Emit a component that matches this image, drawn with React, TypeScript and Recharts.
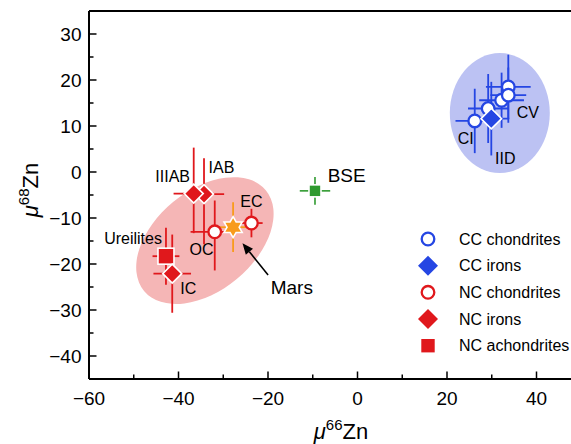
import React from 'react';
import { ScatterChart, Scatter, XAxis, YAxis, ErrorBar, ReferenceLine, Legend } from 'recharts';

// ---------------- data ----------------
const xTicks = [-60, -50, -40, -30, -20, -10, 0, 10, 20, 30, 40, 50];
const yTicks = [-40, -35, -30, -25, -20, -15, -10, -5, 0, 5, 10, 15, 20, 25, 30];

const ccRegion = [{ x: 31.8, y: 12.8 }];
const ncRegion = [{ x: -34.1, y: -14.9 }];

const ccChondrites = [
  { name: '', x: 33.7, y: 18.5, ex: 5, ey: 7 },
  { name: '', x: 32.2, y: 15.6, ex: 5, ey: 6 },
  { name: 'CV', x: 33.7, y: 16.7, ex: 4, ey: 6 },
  { name: '', x: 29.2, y: 13.8, ex: 4.5, ey: 7.5 },
  { name: 'CI', x: 26.2, y: 11.1, ex: 4.3, ey: 7 },
];
const ccIrons = [{ name: 'IID', x: 29.9, y: 11.6, ex: 4, ey: 8 }];
const ncChondrites = [
  { name: 'OC', x: -31.9, y: -13.0, ex: 5.4, ey: [8.4, 6.8] },
  { name: 'EC', x: -23.7, y: -11.1, ex: 2.5, ey: 3.1 },
];
const ncIrons = [
  { name: 'IAB', x: -34.3, y: -4.8, ex: 4.5, ey: [10.9, 7.8] },
  { name: 'IIIAB', x: -36.6, y: -4.7, ex: 4.5, ey: [8.6, 10] },
  { name: 'IC', x: -41.4, y: -22.1, ex: 4.2, ey: 8.5 },
];
const ncAchondrites = [{ name: 'Ureilites', x: -42.8, y: -18.3, ex: 3, ey: 6.2 }];
const bse = [{ name: 'BSE', x: -9.5, y: -4.1, ex: 3.4, ey: 3 }];
const mars = [{ name: 'Mars', x: -27.8, y: -12.0, ex: 3.4, ey: 5.4 }];

const legendLabels = ['CC chondrites', 'CC irons', 'NC chondrites', 'NC irons', 'NC achondrites'];

// ---------------- styles / layout ----------------
const FONT = '"Liberation Sans", Arial, Helvetica, sans-serif';
const BLUE = '#2546e3';
const RED = '#e0181c';
const GREEN = '#2f9a2f';
const ORANGE = '#f89b1c';
const BLUE_FILL = '#bcc2f3';
const RED_FILL = '#f5b6b6';

const CHART_W = 610;
const CHART_H = 444;
const MARGIN = { top: 11, right: 28.75, left: 0, bottom: 0 };
const Y_AXIS_W = 89;
const X_AXIS_H = 65;

const CC_REGION = { rx: 50, ry: 60, angle: 0 };
const NC_REGION = { rx: 79, ry: 50, angle: -39.6 };

const LABEL_POS: Record<string, { dx: number; dy: number; anchor?: string; size?: number }> = {
  CI: { dx: -9, dy: 18 },
  CV: { dx: 19.5, dy: 17.5 },
  IID: { dx: 14, dy: 39.5 },
  IIIAB: { dx: -21, dy: -17 },
  IAB: { dx: 17.5, dy: -26.5 },
  EC: { dx: 0, dy: -22 },
  OC: { dx: -13.3, dy: 17.6 },
  Ureilites: { dx: -4, dy: -17.7, anchor: 'end' },
  IC: { dx: 16, dy: 15 },
  BSE: { dx: 31.7, dy: -15.7, size: 19 },
};

const fmt = (v: number) => (v < 0 ? '\u2212' + Math.abs(v) : String(v));

// ---------------- helpers ----------------
const PointLabel = ({ name, cx, cy }: any) => {
  const p = LABEL_POS[name];
  if (!name || !p) return null;
  return (
    <text
      x={cx + p.dx}
      y={cy + p.dy}
      textAnchor={p.anchor || 'middle'}
      dominantBaseline="central"
      fontSize={p.size || 16}
      fontFamily={FONT}
      fill="#000"
    >
      {name}
    </text>
  );
};

const circlePath = (cx: number, cy: number, color: string) => (
  <circle cx={cx} cy={cy} r={6.3} fill="#fff" stroke={color} strokeWidth={2.3} />
);
const diamondPath = (cx: number, cy: number, color: string, h = 9.5, stroke = '#fff') => (
  <polygon
    points={`${cx},${cy - h} ${cx + h},${cy} ${cx},${cy + h} ${cx - h},${cy}`}
    fill={color}
    stroke={stroke}
    strokeWidth={1.6}
  />
);
const squarePath = (cx: number, cy: number, color: string, h: number, stroke = '#fff') => (
  <rect x={cx - h} y={cy - h} width={2 * h} height={2 * h} fill={color} stroke={stroke} strokeWidth={1.6} />
);
const starPath = (cx: number, cy: number) => {
  const R = 10.5;
  const r = R / Math.sqrt(3);
  const pts: string[] = [];
  for (let k = 0; k < 12; k++) {
    const a = ((-90 + k * 30) * Math.PI) / 180;
    const rad = k % 2 === 0 ? R : r;
    pts.push(`${cx + rad * Math.cos(a)},${cy + rad * Math.sin(a)}`);
  }
  return <polygon points={pts.join(' ')} fill={ORANGE} stroke="#fff" strokeWidth={1.6} />;
};

const CircleShape = (color: string) => (props: any) => (
  <g>
    {circlePath(props.cx, props.cy, color)}
    <PointLabel name={props.payload?.name} cx={props.cx} cy={props.cy} />
  </g>
);
const DiamondShape = (color: string) => (props: any) => (
  <g>
    {diamondPath(props.cx, props.cy, color, props.payload?.name === 'IID' ? 10.3 : 9.5)}
    <PointLabel name={props.payload?.name} cx={props.cx} cy={props.cy} />
  </g>
);
const SquareShape = (color: string, h: number) => (props: any) => (
  <g>
    {squarePath(props.cx, props.cy, color, h)}
    <PointLabel name={props.payload?.name} cx={props.cx} cy={props.cy} />
  </g>
);

const MarsShape = (props: any) => {
  const { cx, cy } = props;
  const tip = { x: cx + 9.4, y: cy + 16 };
  const tail = { x: cx + 35, y: cy + 47.7 };
  const dxv = tip.x - tail.x;
  const dyv = tip.y - tail.y;
  const len = Math.hypot(dxv, dyv);
  const ux = dxv / len;
  const uy = dyv / len;
  const hl = 11;
  const hw = 4.6;
  const bx = tip.x - ux * hl;
  const by = tip.y - uy * hl;
  const nx = -uy;
  const ny = ux;
  return (
    <g>
      {starPath(cx, cy)}
      <line x1={tail.x} y1={tail.y} x2={bx} y2={by} stroke="#000" strokeWidth={1.6} />
      <polygon
        points={`${tip.x},${tip.y} ${bx + nx * hw},${by + ny * hw} ${bx - nx * hw},${by - ny * hw}`}
        fill="#000"
      />
      <text
        x={cx + 58.7}
        y={cy + 60.7}
        textAnchor="middle"
        dominantBaseline="central"
        fontSize={19}
        fontFamily={FONT}
        fill="#000"
      >
        {props.payload?.name}
      </text>
    </g>
  );
};

const EllipseShape = (fill: string, size: { rx: number; ry: number; angle: number }) => (props: any) => (
  <ellipse
    cx={props.cx}
    cy={props.cy}
    rx={size.rx}
    ry={size.ry}
    fill={fill}
    stroke="none"
    transform={`rotate(${size.angle} ${props.cx} ${props.cy})`}
  />
);

const XTick = (props: any) => {
  const { x, y, payload } = props;
  const v = payload.value;
  const major = v % 20 === 0;
  return (
    <g>
      <line x1={x} x2={x} y1={y} y2={y - (major ? 7.5 : 4.5)} stroke="#000" strokeWidth={1.5} />
      {major && (
        <text x={x} y={y + 26} textAnchor="middle" fontSize={19} fontFamily={FONT} fill="#000">
          {fmt(v)}
        </text>
      )}
    </g>
  );
};

const YTick = (props: any) => {
  const { x, y, payload } = props;
  const v = payload.value;
  const major = v % 10 === 0;
  return (
    <g>
      <line x1={x} x2={x + (major ? 7.5 : 4.5)} y1={y} y2={y} stroke="#000" strokeWidth={1.5} />
      {major && (
        <text x={x - 7.5} y={y} dy="0.36em" textAnchor="end" fontSize={19} fontFamily={FONT} fill="#000">
          {fmt(v)}
        </text>
      )}
    </g>
  );
};

const XTitle = () => (
  <text x={341} y={439} textAnchor="middle" fontSize={22} fontFamily={FONT} fill="#000">
    <tspan fontStyle="italic">μ</tspan>
    <tspan fontSize={15} dy={-9}>66</tspan>
    <tspan dy={9}>Zn</tspan>
  </text>
);

const YTitle = () => (
  <text
    x={-190}
    y={38}
    transform="rotate(-90)"
    textAnchor="middle"
    fontSize={22}
    fontFamily={FONT}
    fill="#000"
  >
    <tspan fontStyle="italic">μ</tspan>
    <tspan fontSize={15} dy={-9}>68</tspan>
    <tspan dy={9}>Zn</tspan>
  </text>
);

const LegendBox = () => {
  const rows = [13, 39.7, 66.3, 93, 119.7];
  const mx = 18;
  const markers = [
    circlePath(mx, rows[0], BLUE),
    diamondPath(mx, rows[1], BLUE, 10, 'none'),
    circlePath(mx, rows[2], RED),
    diamondPath(mx, rows[3], RED, 10, 'none'),
    squarePath(mx, rows[4], RED, 6.7, 'none'),
  ];
  return (
    <svg width={200} height={140} style={{ display: 'block', overflow: 'visible' }}>
      {legendLabels.map((t, i) => (
        <g key={t}>
          {markers[i]}
          <text x={49} y={rows[i]} dy="0.36em" fontSize={16} fontFamily={FONT} fill="#000">
            {t}
          </text>
        </g>
      ))}
    </svg>
  );
};

const REGION_Z: any = { zIndex: -20 };

export default function App() {
  return (
    <div
      style={{
        position: 'fixed',
        left: 0,
        top: 0,
        width: 571,
        height: 444,
        overflow: 'hidden',
        background: '#fff',
      }}
    >
      <ScatterChart width={CHART_W} height={CHART_H} margin={MARGIN}>
        <XAxis
          type="number"
          dataKey="x"
          domain={[-60, 50]}
          ticks={xTicks}
          interval={0}
          allowDataOverflow
          tickLine={false}
          tickSize={0}
          tickMargin={0}
          tick={<XTick />}
          axisLine={{ stroke: '#000', strokeWidth: 2 }}
          height={X_AXIS_H}
          label={XTitle}
        />
        <YAxis
          type="number"
          dataKey="y"
          domain={[-45, 35]}
          ticks={yTicks}
          interval={0}
          allowDataOverflow
          tickLine={false}
          tickSize={0}
          tickMargin={0}
          tick={<YTick />}
          axisLine={{ stroke: '#000', strokeWidth: 2 }}
          width={Y_AXIS_W}
          label={YTitle}
        />
        <ReferenceLine y={35} stroke="#000" strokeWidth={2} />
        <ReferenceLine x={50} stroke="#000" strokeWidth={2} />

        <Scatter data={ccRegion} shape={EllipseShape(BLUE_FILL, CC_REGION)} isAnimationActive={false} {...REGION_Z} />
        <Scatter data={ncRegion} shape={EllipseShape(RED_FILL, NC_REGION)} isAnimationActive={false} {...REGION_Z} />

        <Scatter data={bse} shape={SquareShape(GREEN, 6)} isAnimationActive={false}>
          <ErrorBar dataKey="ex" direction="x" width={0} stroke={GREEN} strokeWidth={1.6} />
          <ErrorBar dataKey="ey" direction="y" width={0} stroke={GREEN} strokeWidth={1.6} />
        </Scatter>

        <Scatter data={ncAchondrites} shape={SquareShape(RED, 8)} isAnimationActive={false}>
          <ErrorBar dataKey="ex" direction="x" width={0} stroke={RED} strokeWidth={1.8} />
          <ErrorBar dataKey="ey" direction="y" width={0} stroke={RED} strokeWidth={1.8} />
        </Scatter>
        <Scatter data={ncIrons} shape={DiamondShape(RED)} isAnimationActive={false}>
          <ErrorBar dataKey="ex" direction="x" width={0} stroke={RED} strokeWidth={1.8} />
          <ErrorBar dataKey="ey" direction="y" width={0} stroke={RED} strokeWidth={1.8} />
        </Scatter>
        <Scatter data={ncChondrites} shape={CircleShape(RED)} isAnimationActive={false}>
          <ErrorBar dataKey="ex" direction="x" width={0} stroke={RED} strokeWidth={1.8} />
          <ErrorBar dataKey="ey" direction="y" width={0} stroke={RED} strokeWidth={1.8} />
        </Scatter>
        <Scatter data={mars} shape={MarsShape} isAnimationActive={false}>
          <ErrorBar dataKey="ex" direction="x" width={0} stroke={ORANGE} strokeWidth={1.8} />
          <ErrorBar dataKey="ey" direction="y" width={0} stroke={ORANGE} strokeWidth={1.8} />
        </Scatter>

        <Scatter data={ccChondrites} shape={CircleShape(BLUE)} isAnimationActive={false}>
          <ErrorBar dataKey="ex" direction="x" width={0} stroke={BLUE} strokeWidth={1.8} />
          <ErrorBar dataKey="ey" direction="y" width={0} stroke={BLUE} strokeWidth={1.8} />
        </Scatter>
        <Scatter data={ccIrons} shape={DiamondShape(BLUE)} isAnimationActive={false}>
          <ErrorBar dataKey="ex" direction="x" width={0} stroke={BLUE} strokeWidth={1.8} />
          <ErrorBar dataKey="ey" direction="y" width={0} stroke={BLUE} strokeWidth={1.8} />
        </Scatter>

        <Legend
          layout="vertical"
          align="center"
          verticalAlign="middle"
          content={LegendBox}
          wrapperStyle={{ left: 410, top: 226, width: 200, height: 140 }}
        />
      </ScatterChart>
    </div>
  );
}
